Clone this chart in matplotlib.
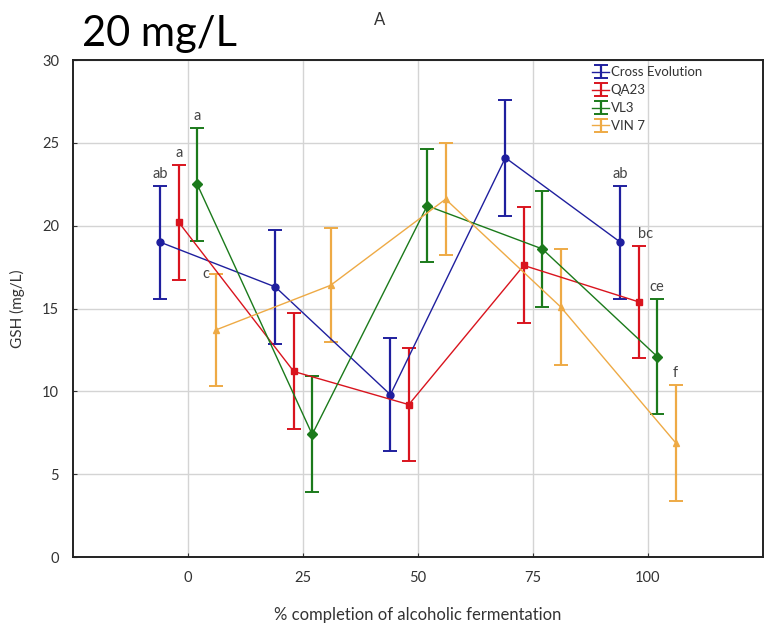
import matplotlib
matplotlib.use("Agg")
import matplotlib.pyplot as plt

plt.rcParams['font.family'] = ['Lato', 'DejaVu Sans']

# GSH during fermentation, 20 mg/L addition
stages = [0, 25, 50, 75, 100]
strains = ["Cross Evolution", "QA23", "VL3", "VIN 7"]
offsets = [-6, -2, 2, 6]

cross_evolution = [19.0, 16.3, 9.8, 24.1, 19.0]
qa23 = [20.2, 11.2, 9.2, 17.6, 15.4]
vl3 = [22.5, 7.4, 21.2, 18.6, 12.1]
vin7 = [13.7, 16.4, 21.6, 15.1, 6.9]

err_cross = [3.4, 3.45, 3.4, 3.5, 3.4]
err_qa23 = [3.45, 3.5, 3.4, 3.5, 3.4]
err_vl3 = [3.4, 3.5, 3.4, 3.5, 3.45]
err_vin7 = [3.4, 3.45, 3.4, 3.5, 3.5]

# significance letters shown on the first and last stage
letters_first = ["ab", "a", "a", "c"]
letters_last = ["ab", "bc", "ce", "f"]

series = [cross_evolution, qa23, vl3, vin7]
errors = [err_cross, err_qa23, err_vl3, err_vin7]
colors = ["#1f1f9e", "#d9141e", "#1b7a1b", "#eeaa45"]
markers = ["o", "s", "D", "^"]

fig = plt.figure(figsize=(7.69, 6.27), dpi=100)
ax = fig.add_axes([0.0949, 0.1116, 0.8973, 0.7927])

for name, vals, err, col, mk, off in zip(strains, series, errors, colors, markers, offsets):
    xs = [s + off for s in stages]
    ax.errorbar(xs, vals, yerr=err, color=col, ecolor=col, lw=1.0, elinewidth=1.6,
                capsize=5, capthick=1.4, marker=mk, ms=5, mfc=col, mec=col,
                label=name, zorder=3)

# letters above error bars
lab_kw = dict(fontsize=10.5, color="#444444")
for i, (vals, err, off) in enumerate(zip(series, errors, offsets)):
    x0 = stages[0] + off
    top0 = vals[0] + err[0]
    if i == 3:
        ax.text(x0 - 2.2, top0, letters_first[i], ha="center", va="center", **lab_kw)
    else:
        ax.text(x0, top0 + 0.3, letters_first[i], ha="center", va="bottom", **lab_kw)
    x1 = stages[-1] + off
    top1 = vals[-1] + err[-1]
    if i == 1:
        ax.text(x1 - 0.2, top1 + 0.3, letters_last[i], ha="left", va="bottom", **lab_kw)
    else:
        ax.text(x1, top1 + 0.3, letters_last[i], ha="center", va="bottom", **lab_kw)

ax.set_xlim(-25, 125)
ax.set_ylim(0, 30)
ax.set_xticks(stages)
ax.set_yticks([0, 5, 10, 15, 20, 25, 30])
ax.grid(True, color="#d4d4d4", lw=1.0)
ax.set_axisbelow(True)
ax.tick_params(direction="in", length=3, labelsize=10.5, labelcolor="#333333",
               color="#333333")
ax.tick_params(axis="y", pad=10)
ax.tick_params(axis="x", pad=10)
for sp in ax.spines.values():
    sp.set_color("#222222")
    sp.set_linewidth(1.4)

ax.set_ylabel("GSH (mg/L)", fontsize=11, color="#333333", labelpad=12)
ax.set_xlabel("% completion of alcoholic fermentation", fontsize=12,
              color="#333333", labelpad=16)

leg = ax.legend(loc="upper left", bbox_to_anchor=(0.745, 0.998), frameon=False,
                fontsize=9.5, handlelength=1.3, handletextpad=0.1,
                labelspacing=0.45, borderaxespad=0.0, markerscale=0)
for t in leg.get_texts():
    t.set_color("#333333")

fig.text(0.494, 0.968, "A", ha="center", va="center", fontsize=12, color="#333333")
fig.text(0.107, 0.945, "20 mg/L", ha="left", va="center", fontsize=30, color="black")

fig.savefig("out.png", dpi=100)
